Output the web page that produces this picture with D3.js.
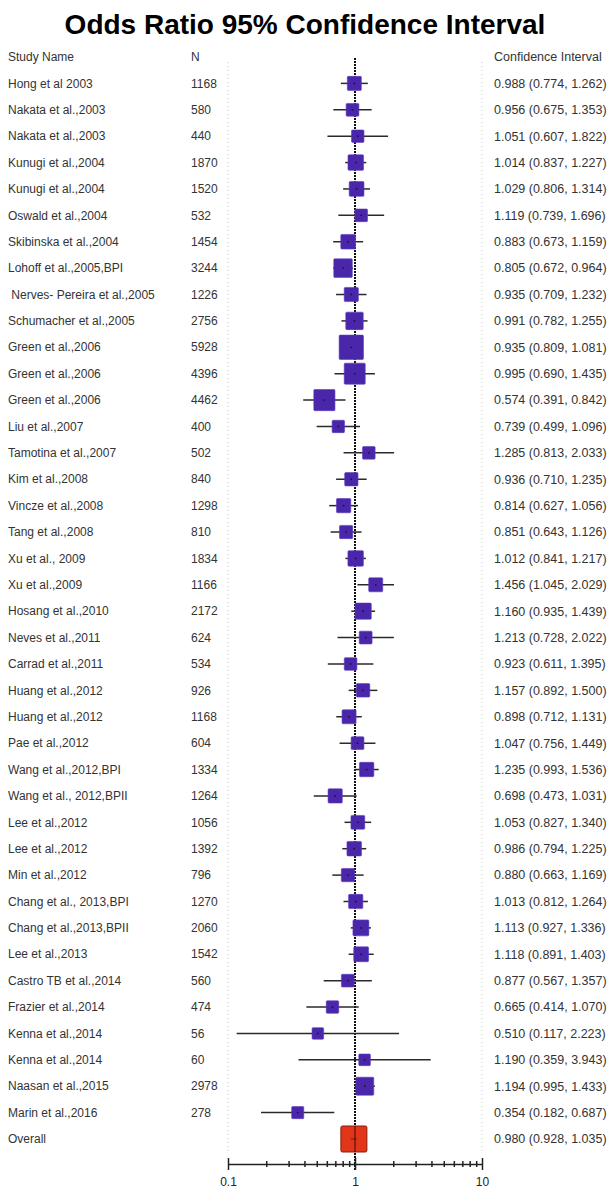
<!DOCTYPE html>
<html>
<head>
<meta charset="utf-8">
<script src="https://cdn.jsdelivr.net/npm/d3@7"></script>
<style>
  body { margin: 0; background: #fff; }
  svg { display: block; font-family: "Liberation Sans", Arial, sans-serif; }
</style>
</head>
<body>
<div id="forest"></div>
<script>
// Study data
const studies = [
  "Hong et al 2003", "Nakata et al.,2003", "Nakata et al.,2003", "Kunugi et al.,2004",
  "Kunugi et al.,2004", "Oswald et al.,2004", "Skibinska et al.,2004", "Lohoff et al.,2005,BPI",
  " Nerves- Pereira et al.,2005", "Schumacher et al.,2005", "Green et al.,2006", "Green et al.,2006",
  "Green et al.,2006", "Liu et al.,2007", "Tamotina et al.,2007", "Kim et al.,2008",
  "Vincze et al.,2008", "Tang et al.,2008", "Xu et al., 2009", "Xu et al.,2009",
  "Hosang et al.,2010", "Neves et al.,2011", "Carrad et al.,2011", "Huang et al.,2012",
  "Huang et al.,2012", "Pae et al.,2012", "Wang et al.,2012,BPI", "Wang et al., 2012,BPII",
  "Lee et al.,2012", "Lee et al.,2012", "Min et al.,2012", "Chang et al., 2013,BPI",
  "Chang et al.,2013,BPII", "Lee et al.,2013", "Castro TB et al.,2014", "Frazier et al.,2014",
  "Kenna et al.,2014", "Kenna et al.,2014", "Naasan et al.,2015", "Marin et al.,2016"
];
const sampleSizes = [
  1168, 580, 440, 1870, 1520, 532, 1454, 3244, 1226, 2756, 5928, 4396, 4462, 400, 502, 840,
  1298, 810, 1834, 1166, 2172, 624, 534, 926, 1168, 604, 1334, 1264, 1056, 1392, 796, 1270,
  2060, 1542, 560, 474, 56, 60, 2978, 278
];
const oddsRatios = [
  0.988, 0.956, 1.051, 1.014, 1.029, 1.119, 0.883, 0.805, 0.935, 0.991, 0.935, 0.995, 0.574,
  0.739, 1.285, 0.936, 0.814, 0.851, 1.012, 1.456, 1.160, 1.213, 0.923, 1.157, 0.898, 1.047,
  1.235, 0.698, 1.053, 0.986, 0.880, 1.013, 1.113, 1.118, 0.877, 0.665, 0.510, 1.190, 1.194, 0.354
];
const lowerCI = [
  0.774, 0.675, 0.607, 0.837, 0.806, 0.739, 0.673, 0.672, 0.709, 0.782, 0.809, 0.690, 0.391,
  0.499, 0.813, 0.710, 0.627, 0.643, 0.841, 1.045, 0.935, 0.728, 0.611, 0.892, 0.712, 0.756,
  0.993, 0.473, 0.827, 0.794, 0.663, 0.812, 0.927, 0.891, 0.567, 0.414, 0.117, 0.359, 0.995, 0.182
];
const upperCI = [
  1.262, 1.353, 1.822, 1.227, 1.314, 1.696, 1.159, 0.964, 1.232, 1.255, 1.081, 1.435, 0.842,
  1.096, 2.033, 1.235, 1.056, 1.126, 1.217, 2.029, 1.439, 2.022, 1.395, 1.500, 1.131, 1.449,
  1.536, 1.031, 1.340, 1.225, 1.169, 1.264, 1.336, 1.403, 1.357, 1.070, 2.223, 3.943, 1.433, 0.687
];
const overall = { name: "Overall", or: 0.980, lo: 0.928, hi: 1.035 };
const axisTicks = [0.1, 0.2, 0.3, 0.4, 0.5, 0.6, 0.7, 0.8, 0.9, 1, 2, 3, 4, 5, 6, 7, 8, 9, 10];
const axisLabels = [0.1, 1, 10];

const width = 609, height = 1191;
const fmt = d3.format(".3f");

const svg = d3.select("#forest").append("svg")
  .attr("width", width)
  .attr("height", height);

// Scales
const x = d3.scaleLog().domain([0.1, 10]).range([228, 482]);
const rowY = d3.scaleLinear().domain([0, 41]).range([57, 1139]); // 0 = header, 41 = overall
const boxSize = d3.scaleLinear().domain([0, 6000]).range([11.5, 24.5]);

const rows = studies.map((name, i) => ({
  name, n: sampleSizes[i], or: oddsRatios[i], lo: lowerCI[i], hi: upperCI[i], row: i + 1
}));

// Title
svg.append("text")
  .attr("x", 305)
  .attr("y", 34)
  .attr("text-anchor", "middle")
  .style("font-size", "28px")
  .style("font-weight", "bold")
  .style("fill", "#000")
  .text("Odds Ratio 95% Confidence Interval");

// Light dotted guide lines at the axis ends
svg.selectAll("line.guide")
  .data([0.1, 10])
  .join("line")
  .attr("class", "guide")
  .attr("x1", d => x(d)).attr("x2", d => x(d))
  .attr("y1", 62).attr("y2", 1152)
  .attr("stroke", "#c8c8c8")
  .attr("stroke-width", 1)
  .attr("stroke-dasharray", "1,3");

// Column headers
const header = svg.append("g").style("font-size", "12px").style("fill", "#333");
header.append("text").attr("x", 8).attr("y", rowY(0)).attr("dy", "0.35em").text("Study Name");
header.append("text").attr("x", 191).attr("y", rowY(0)).attr("dy", "0.35em").text("N");
header.append("text").attr("x", 494).attr("y", rowY(0)).attr("dy", "0.35em")
  .style("font-size", "12.5px").text("Confidence Interval");

// Null line at OR = 1
svg.append("line")
  .attr("x1", x(1)).attr("x2", x(1))
  .attr("y1", 58).attr("y2", 1170)
  .attr("stroke", "#111")
  .attr("stroke-width", 2)
  .attr("stroke-dasharray", "2,1");

// Study rows
const g = svg.selectAll("g.study")
  .data(rows)
  .join("g")
  .attr("class", "study")
  .attr("transform", d => `translate(0,${rowY(d.row)})`);

g.append("text")
  .attr("x", 8).attr("dy", "0.35em")
  .style("font-size", "12px").style("fill", "#333")
  .style("white-space", "pre")
  .attr("xml:space", "preserve")
  .text(d => d.name);

g.append("text")
  .attr("x", 191).attr("dy", "0.35em")
  .style("font-size", "12px").style("fill", "#333")
  .text(d => d.n);

g.append("text")
  .attr("x", 494).attr("dy", "0.35em")
  .style("font-size", "12.5px").style("fill", "#333")
  .text(d => `${fmt(d.or)} (${fmt(d.lo)}, ${fmt(d.hi)})`);

g.append("line")
  .attr("x1", d => x(d.lo)).attr("x2", d => x(d.hi))
  .attr("stroke", "#2a2a2a")
  .attr("stroke-width", 1.5);

g.append("rect")
  .attr("x", d => x(d.or) - boxSize(d.n) / 2)
  .attr("y", d => -boxSize(d.n) / 2)
  .attr("width", d => boxSize(d.n))
  .attr("height", d => boxSize(d.n))
  .attr("rx", 1)
  .attr("fill", "#4a27aa")
  .attr("stroke", "#5a3cc0")
  .attr("stroke-width", 0.6);

g.append("circle")
  .attr("cx", d => x(d.or))
  .attr("r", 0.9)
  .attr("fill", "#1a1040");

// Overall row
const ov = svg.append("g").attr("transform", `translate(0,${rowY(41)})`);
ov.append("text").attr("x", 8).attr("dy", "0.35em")
  .style("font-size", "12px").style("fill", "#333").text(overall.name);
ov.append("text").attr("x", 494).attr("dy", "0.35em")
  .style("font-size", "12.5px").style("fill", "#333")
  .text(`${fmt(overall.or)} (${fmt(overall.lo)}, ${fmt(overall.hi)})`);
ov.append("rect")
  .attr("x", x(overall.or) - 13)
  .attr("y", -13)
  .attr("width", 26).attr("height", 26)
  .attr("rx", 1.5)
  .attr("fill", "#e2361a")
  .attr("stroke", "#8a1a08")
  .attr("stroke-width", 1);
ov.append("line")
  .attr("x1", x(overall.lo)).attr("x2", x(overall.hi))
  .attr("stroke", "#7a1a0a").attr("stroke-width", 1);
ov.append("line")
  .attr("x1", x(1)).attr("x2", x(1)).attr("y1", -13).attr("y2", 13)
  .attr("stroke", "#3a0a04").attr("stroke-width", 1);

// Log axis with ticks crossing the line
const axisG = svg.append("g")
  .attr("transform", "translate(0,1164)")
  .call(d3.axisBottom(x)
    .tickValues(axisTicks)
    .tickSize(6)
    .tickSizeOuter(0)
    .tickFormat(d => axisLabels.includes(d) ? d3.format("~g")(d) : ""));

axisG.select(".domain").attr("stroke", "#222").attr("stroke-width", 1.5);
axisG.selectAll(".tick line")
  .attr("stroke", "#222")
  .attr("stroke-width", 1.5)
  .attr("y1", d => axisLabels.includes(d) ? -6 : -3)
  .attr("y2", d => axisLabels.includes(d) ? 6 : 3);
axisG.selectAll(".tick text")
  .attr("y", 13)
  .attr("dy", "0.71em")
  .style("font-size", "12px")
  .style("fill", "#222")
  .style("font-family", "'Liberation Sans', Arial, sans-serif");
</script>
</body>
</html>
